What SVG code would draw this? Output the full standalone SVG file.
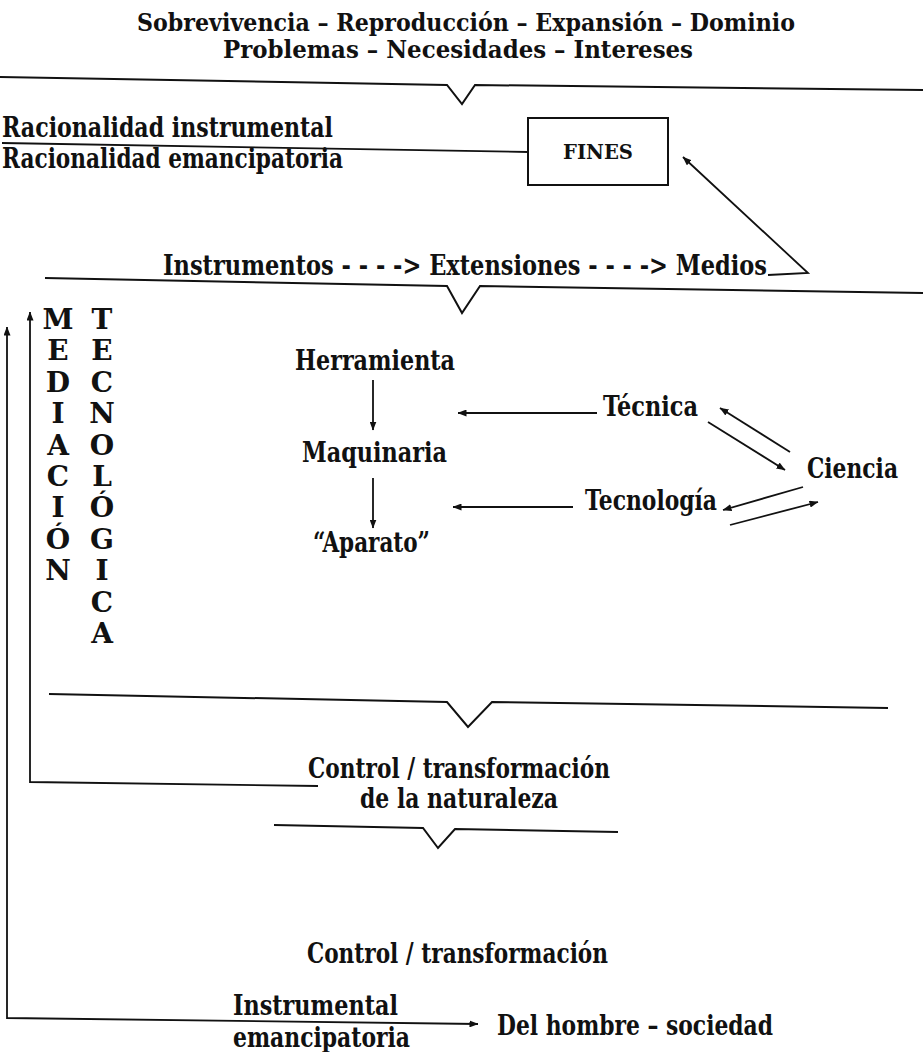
<svg xmlns="http://www.w3.org/2000/svg" width="923" height="1052" viewBox="0 0 923 1052">
  <style>
    text { font-family: "DejaVu Serif", "Liberation Serif", serif; font-weight: bold; fill: #111; }
    .big { font-size: 27px; }
    .head { font-size: 25px; }
    .lt { font-size: 28px; text-anchor: middle; }
    .rule { fill: none; stroke: #111; stroke-width: 2; stroke-linejoin: miter; }
    .ln { fill: none; stroke: #111; stroke-width: 1.8; }
    .arr { fill: none; stroke: #111; stroke-width: 1.8; marker-end: url(#ah); }
    .box { fill: #fff; stroke: #111; stroke-width: 2; }
  </style>
  <defs>
    <marker id="ah" viewBox="0 0 9 7" refX="8.5" refY="3.5" markerWidth="9" markerHeight="7" markerUnits="userSpaceOnUse" orient="auto-start-reverse">
      <path d="M0,0 L9,3.5 L0,7 Z" fill="#111"/>
    </marker>
  </defs>

  <rect width="923" height="1052" fill="#fff"/>

  <!-- heading -->
  <g id="heading">
    <text class="head" x="137" y="31" textLength="658" lengthAdjust="spacingAndGlyphs">Sobrevivencia – Reproducción – Expansión – Dominio</text>
    <text class="head" x="223" y="58" textLength="470" lengthAdjust="spacingAndGlyphs">Problemas – Necesidades – Intereses</text>
  </g>

  <!-- section rules with notch -->
  <g id="rules">
    <polyline class="rule" points="0,77 447,85 462,104 475,85 923,90"/>
    <polyline class="rule" points="45,278 447,286 462,313 480,286 923,293"/>
    <polyline class="rule" points="49,694 447,702 468,727 492,702 888,708"/>
    <polyline class="rule" points="274,825 423,828 438,848 455,829 618,832"/>
  </g>

  <g id="racionalidad">
    <text class="big" x="2" y="137" textLength="331" lengthAdjust="spacingAndGlyphs">Racionalidad instrumental</text>
    <text class="big" x="2" y="168" textLength="341" lengthAdjust="spacingAndGlyphs">Racionalidad emancipatoria</text>
  </g>

  <g id="fines">
    <rect class="box" x="528" y="118" width="140" height="67"/>
    <text x="563" y="159" font-size="21" textLength="70" lengthAdjust="spacingAndGlyphs">FINES</text>
  </g>

  <g id="medios">
    <text class="big" x="163" y="275" textLength="604" lengthAdjust="spacingAndGlyphs">Instrumentos - - - -&gt; Extensiones - - - -&gt; Medios</text>
  </g>

  <g id="mediacion">
    <text class="lt" x="58" y="329">M</text>
    <text class="lt" x="58" y="360">E</text>
    <text class="lt" x="58" y="392">D</text>
    <text class="lt" x="58" y="423">I</text>
    <text class="lt" x="58" y="455">A</text>
    <text class="lt" x="58" y="486">C</text>
    <text class="lt" x="58" y="517">I</text>
    <text class="lt" x="58" y="549">Ó</text>
    <text class="lt" x="58" y="580">N</text>
  </g>
  <g id="tecnologica">
    <text class="lt" x="102" y="329">T</text>
    <text class="lt" x="102" y="360">E</text>
    <text class="lt" x="102" y="392">C</text>
    <text class="lt" x="102" y="423">N</text>
    <text class="lt" x="102" y="455">O</text>
    <text class="lt" x="102" y="486">L</text>
    <text class="lt" x="102" y="517">Ó</text>
    <text class="lt" x="102" y="549">G</text>
    <text class="lt" x="102" y="580">I</text>
    <text class="lt" x="102" y="612">C</text>
    <text class="lt" x="102" y="643">A</text>
  </g>

  <g id="herramienta"><text class="big" x="295" y="370" textLength="160" lengthAdjust="spacingAndGlyphs">Herramienta</text></g>
  <g id="maquinaria"><text class="big" x="302" y="462" textLength="145" lengthAdjust="spacingAndGlyphs">Maquinaria</text></g>
  <g id="aparato"><text class="big" x="313" y="552" textLength="117" lengthAdjust="spacingAndGlyphs">“Aparato”</text></g>
  <g id="tecnica"><text class="big" x="603" y="416" textLength="95" lengthAdjust="spacingAndGlyphs">Técnica</text></g>
  <g id="ciencia"><text class="big" x="807" y="478" textLength="91" lengthAdjust="spacingAndGlyphs">Ciencia</text></g>
  <g id="tecnologia"><text class="big" x="585" y="510" textLength="132" lengthAdjust="spacingAndGlyphs">Tecnología</text></g>

  <g id="naturaleza">
    <text class="big" x="308" y="778" textLength="302" lengthAdjust="spacingAndGlyphs">Control / transformación</text>
    <text class="big" x="360" y="808" textLength="198" lengthAdjust="spacingAndGlyphs">de la naturaleza</text>
  </g>
  <g id="control">
    <text class="big" x="307" y="963" textLength="301" lengthAdjust="spacingAndGlyphs">Control / transformación</text>
  </g>
  <g id="instrumental">
    <text class="big" x="233" y="1015" textLength="165" lengthAdjust="spacingAndGlyphs">Instrumental</text>
    <text class="big" x="233" y="1047" textLength="177" lengthAdjust="spacingAndGlyphs">emancipatoria</text>
  </g>
  <g id="sociedad">
    <text class="big" x="497" y="1035" textLength="276" lengthAdjust="spacingAndGlyphs">Del hombre – sociedad</text>
  </g>

  <!-- connectors -->
  <g id="connectors">
    <line class="ln" x1="2" y1="143" x2="528" y2="152"/>
    <polyline class="arr" points="768,275 808,273 683,157"/>
    <line class="arr" x1="373" y1="380" x2="373" y2="430"/>
    <line class="arr" x1="373" y1="478" x2="373" y2="528"/>
    <line class="arr" x1="597" y1="413" x2="458" y2="413"/>
    <line class="arr" x1="573" y1="507" x2="453" y2="507"/>
    <line class="arr" x1="708" y1="422" x2="785" y2="470"/>
    <line class="arr" x1="790" y1="452" x2="720" y2="408"/>
    <line class="arr" x1="803" y1="487" x2="723" y2="510"/>
    <line class="arr" x1="730" y1="525" x2="818" y2="502"/>
    <polyline class="arr" points="318,786 30,782 30,312"/>
    <path class="arr" d="M7,327 L7,1018 L478,1024" style="marker-start:url(#ah)"/>
  </g>
</svg>
